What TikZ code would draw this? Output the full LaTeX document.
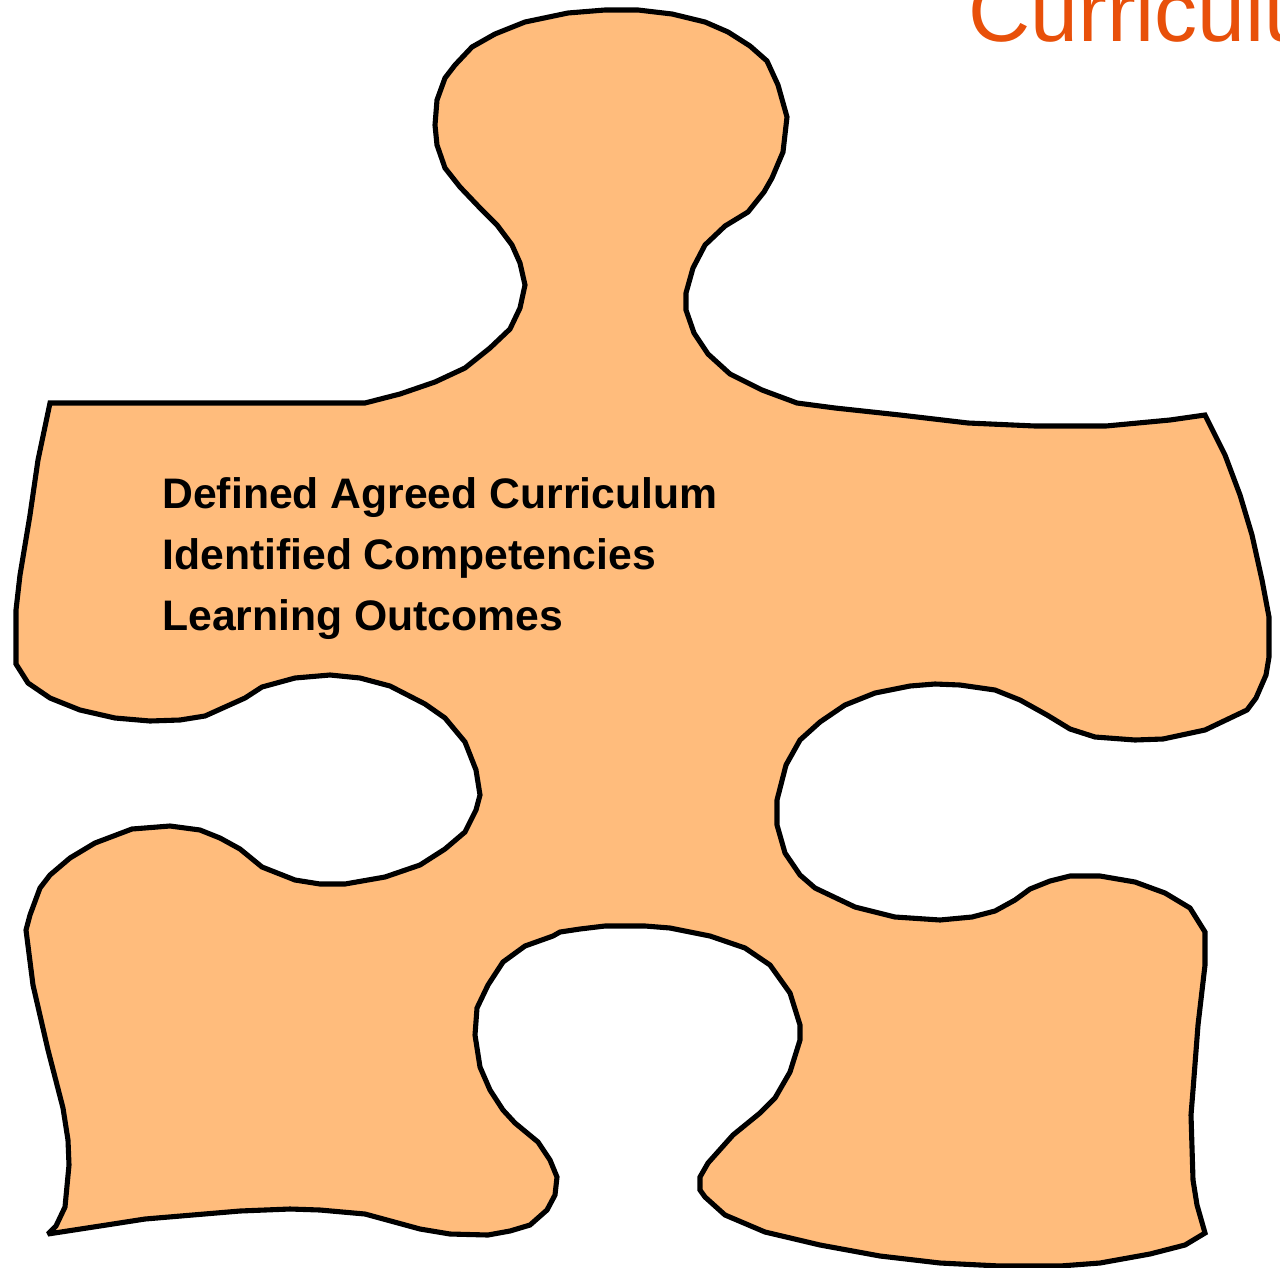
\documentclass[tikz,border=0pt]{standalone}
\usepackage{fontspec}
\setmainfont{Liberation Sans}
\definecolor{piecefill}{HTML}{FFBC7C}
\definecolor{titleorange}{HTML}{E8500A}
\tikzstyle{piece} = [draw=black,fill=piecefill,line width=2.9pt,line join=miter,miter limit=3]
\tikzstyle{itemtext} = [anchor=base west,inner sep=0pt,font=\fontsize{24.3pt}{29pt}\selectfont\bfseries]
\tikzstyle{titletext} = [anchor=base west,inner sep=0pt,text=titleorange,font=\fontsize{49pt}{58pt}\selectfont]

\begin{document}
\begin{tikzpicture}[x=0.02cm,y=-0.02cm]
        \useasboundingbox (0,0) rectangle (1280,1267);
        \clip (0,0) rectangle (1280,1267);

        % Puzzle piece
        \draw[piece] (605,10) -- (638,10) -- (672,14) -- (705,22) -- (728,32) -- (750,46) -- (767,61) -- (778,85) -- (787,117) -- (783,152) -- (772,178) -- (764,192) -- (748,212) -- (725,226) -- (705,245) -- (693,268) -- (686,293) -- (686,310) -- (694,333) -- (708,354) -- (730,374) -- (762,390) -- (797,403) -- (835,408) -- (900,415) -- (968,423) -- (1035,426) -- (1106,426) -- (1170,420) -- (1205,415)
        -- (1225,455) -- (1240,495) -- (1252,535) -- (1262,580) -- (1269,617) -- (1269,657) -- (1266,675) -- (1256,698) -- (1247,710) -- (1205,730) -- (1163,739) -- (1135,740) -- (1095,737) -- (1070,729) -- (1047,715) -- (1020,700) -- (995,690) -- (960,685) -- (935,684) -- (910,686) -- (875,693) -- (845,705) -- (820,722) -- (800,740) -- (786,765) -- (777,800) -- (777,825) -- (785,853) -- (800,875) -- (815,888) -- (855,907) -- (895,917) -- (940,920) -- (972,917) -- (995,911) -- (1015,900) -- (1030,889) -- (1050,881) -- (1070,876) -- (1100,876) -- (1135,882) -- (1165,893) -- (1190,908) -- (1205,932)
        -- (1205,965) -- (1198,1025) -- (1193,1090) -- (1191,1115) -- (1193,1180) -- (1197,1205) -- (1205,1233) -- (1185,1245) -- (1150,1254) -- (1100,1263) -- (1060,1266) -- (1000,1266) -- (940,1263) -- (880,1256) -- (820,1245) -- (765,1232) -- (725,1215) -- (705,1197) -- (700,1190) -- (700,1177) -- (708,1163) -- (733,1135) -- (760,1113) -- (775,1098) -- (790,1072) -- (800,1040) -- (800,1025) -- (790,993) -- (770,965) -- (745,948) -- (710,936) -- (670,928) -- (645,926) -- (605,926) -- (580,929) -- (560,932) -- (553,936) -- (525,946) -- (503,962) -- (488,985) -- (477,1008) -- (475,1035) -- (480,1067) -- (490,1090) -- (503,1110) -- (515,1123) -- (538,1142) -- (550,1160) -- (557,1177) -- (555,1195) -- (547,1210) -- (530,1225) -- (510,1231) -- (488,1235) -- (450,1234) -- (420,1229) -- (365,1214) -- (320,1210) -- (290,1209) -- (240,1211) -- (145,1219) -- (100,1226) -- (48,1234)
        -- (56,1226) -- (65,1207) -- (69,1165) -- (68,1140) -- (63,1108) -- (48,1050) -- (33,985) -- (26,930) -- (30,915) -- (40,888) -- (50,875) -- (70,858) -- (95,843) -- (132,829) -- (170,826) -- (200,830) -- (220,838) -- (240,849) -- (262,867) -- (295,880) -- (320,884) -- (345,884) -- (385,877) -- (420,865) -- (445,849) -- (465,832) -- (476,810) -- (480,795) -- (476,770) -- (465,742) -- (445,718) -- (425,704) -- (390,686) -- (360,678) -- (330,675) -- (295,678) -- (262,687) -- (245,698) -- (205,716) -- (180,720) -- (150,721) -- (115,718) -- (80,710) -- (50,698) -- (28,683) -- (16,664) -- (16,610) -- (20,575) -- (30,515) -- (38,460) -- (50,403)
        -- (365,403) -- (400,394) -- (435,382) -- (465,368) -- (490,348) -- (510,329) -- (520,308) -- (525,285) -- (520,263) -- (512,245) -- (497,225) -- (480,208) -- (460,187) -- (445,168) -- (437,145) -- (435,125) -- (437,100) -- (445,78) -- (455,65) -- (472,47) -- (495,34) -- (525,22) -- (568,13) -- cycle;

        % Labels
        \node[itemtext] (curriculum) at (162,508) {Defined Agreed Curriculum};
        \node[itemtext] (competencies) at (162,569) {Identified Competencies};
        \node[itemtext] (outcomes) at (162,630) {Learning Outcomes};

        \node[titletext] (title) at (968,42) {Curriculum};
\end{tikzpicture}
\end{document}
